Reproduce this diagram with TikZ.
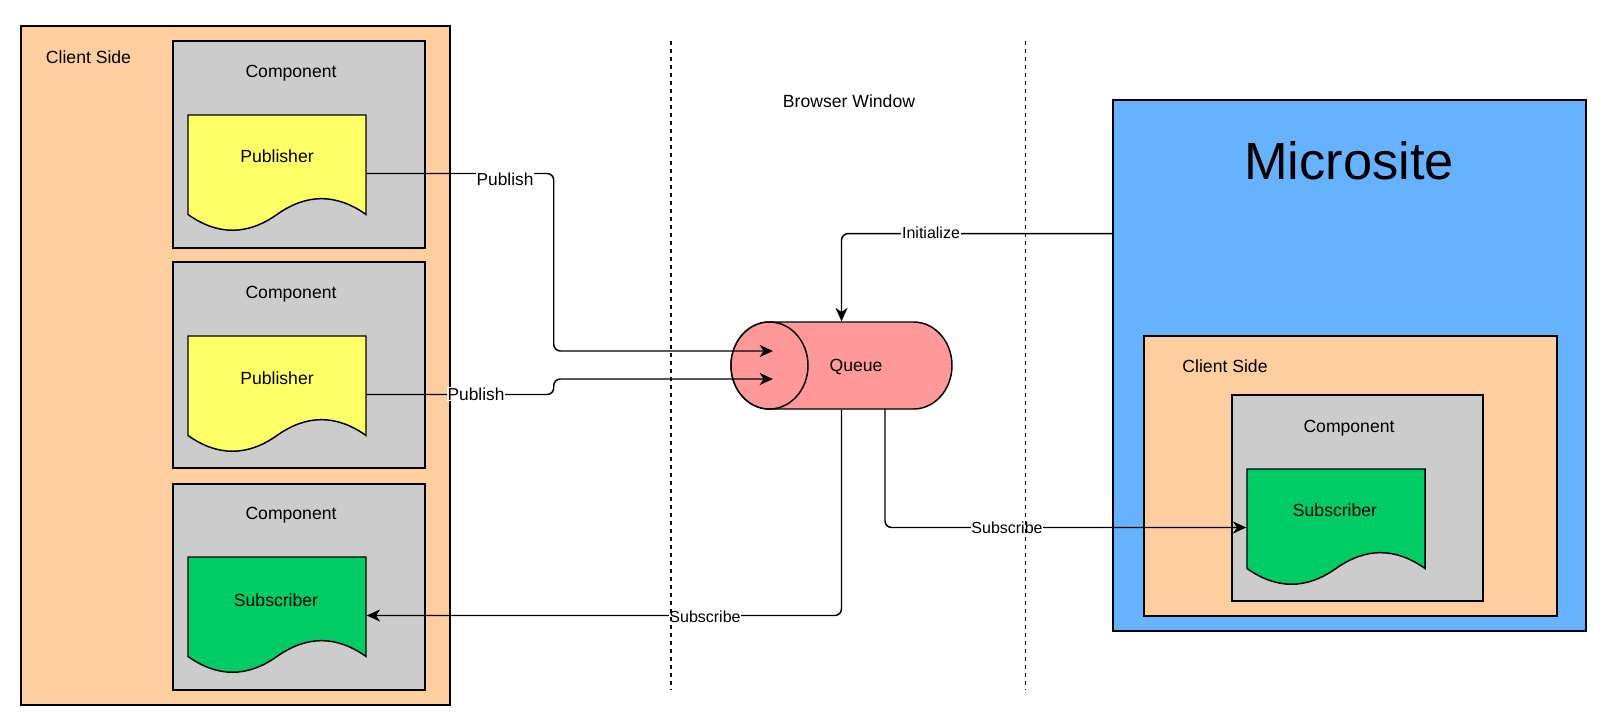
\documentclass[tikz,border=0pt]{standalone}
\usepackage{fontspec}
\setmainfont{Liberation Sans}
\usetikzlibrary{arrows.meta}

\definecolor{clientorange}{HTML}{FFCE9F}
\definecolor{compgray}{HTML}{CCCCCC}
\definecolor{pubyellow}{HTML}{FFFF66}
\definecolor{subgreen}{HTML}{00CC66}
\definecolor{siteblue}{HTML}{66B2FF}
\definecolor{queuepink}{HTML}{FF9999}

\tikzset{every picture/.style={line width=1.1pt}}
\tikzset{
  boxtext/.style={font=\fontsize{13.2}{16}\selectfont, inner sep=0pt},
  elabel/.style={font=\fontsize{12}{14}\selectfont, fill=white, inner sep=0.6pt},
  plabel/.style={elabel, font=\fontsize{13}{15}\selectfont},
  docnode/.style={minimum width=133.5pt, minimum height=87.75pt, inner sep=0pt},
  conn/.style={rounded corners=5pt, -{Stealth[length=10pt,width=9pt,inset=3pt]}},
  divider/.style={dash pattern=on 3pt off 3pt}
}

% document shape: top left corner, fill colour
\newcommand{\docshape}[3]{%
  \draw[fill=#3] (#1,#2) -- ({#1+178},#2) -- ({#1+178},{#2+99.45})
    .. controls ({#1+148.33},{#2+78.39}) and ({#1+118.67},{#2+78.39}) .. ({#1+89},{#2+99.45})
    .. controls ({#1+59.33},{#2+120.51}) and ({#1+29.67},{#2+120.51}) .. (#1,{#2+99.45}) -- cycle;}

\begin{document}
\begin{tikzpicture}[x=0.75pt,y=0.75pt,yscale=-1,xscale=1]
\useasboundingbox (0,0) rectangle (1606,725);

%Shape: Rectangle (client side, left)
\draw[fill=clientorange] (21,26) rectangle (450,705);
% Text Node
\draw (88.5,57) node (lside) [boxtext] {Client Side};

%Shape: Rectangle (components)
\draw[fill=compgray] (173,41) rectangle (425,248);
\draw[fill=compgray] (173,262) rectangle (425,468);
\draw[fill=compgray] (173,484) rectangle (425,690);
% Text Node
\draw (291,73) node (comp1) [boxtext] {Component};
\draw (291,294) node (comp2) [boxtext] {Component};
\draw (291,515) node (comp3) [boxtext] {Component};

%Shape: Document
\docshape{188}{115}{pubyellow}
\docshape{188}{336}{pubyellow}
\docshape{188}{557}{subgreen}
\node (pub1) [docnode] at (277,173.5) {};
\node (pub2) [docnode] at (277,394.5) {};
\node (sub1) [docnode] at (277,615.5) {};
% Text Node
\draw (277,156) node (pub1txt) [boxtext] {Publisher};
\draw (277,378) node (pub2txt) [boxtext] {Publisher};
\draw (276,600) node (sub1txt) [boxtext] {Subscriber};

% Text Node
\draw (849,101) node (browser) [boxtext] {Browser Window};

%Shape: Can (queue)
\node (queue) [minimum width=165.75pt, minimum height=65.25pt, inner sep=0pt] at (841.5,365.5) {};
\draw[fill=queuepink] (769.5,322) -- (913.5,322) arc[start angle=-90, end angle=90, x radius=38.5, y radius=43.5]
  -- (769.5,409) arc[start angle=90, end angle=270, x radius=38.5, y radius=43.5] -- cycle;
\draw[fill=queuepink] (769.5,365.5) ellipse [x radius=38.5, y radius=43.5];
\draw (856,367) node (qtxt) [boxtext] {Queue};
\coordinate (qin1) at (773,351);
\coordinate (qin2) at (773,379);
\coordinate (qout) at (885,409);

%Shape: Rectangle (microsite)
\node (microsite) [draw, fill=siteblue, minimum width=354.75pt, minimum height=398.25pt, inner sep=0pt] at (1349.5,365.5) {};
\draw (1349,161) node (mtitle) [font=\fontsize{39.3}{44}\selectfont, inner sep=0pt] {Microsite};
\coordinate (minit) at (1113,233.6);

\draw[fill=clientorange] (1144,336) rectangle (1557,616);
\draw (1225,366) node (rside) [boxtext] {Client Side};
\draw[fill=compgray] (1232,395) rectangle (1483,601);
\draw (1349,428) node (comp4) [boxtext] {Component};
\docshape{1247}{469}{subgreen}
\node (sub2) [docnode] at (1336,527.5) {};
\draw (1335,510) node (sub2txt) [boxtext] {Subscriber};

%Straight Lines (connectors)
\draw[conn] (pub1.east) -- ++(187,0) |- (qin1);
\draw[conn] (pub2.east) -- ++(187,0) |- (qin2);
\draw[conn] (minit) -| (queue.north);
\draw[conn] (queue.south) |- (sub1.east);
\draw[conn] (qout) |- (sub2.west);

% Text Node (connector labels)
\draw (505,179) node (lpub1) [plabel] {Publish};
\draw (476,394) node (lpub2) [plabel] {Publish};
\draw (931,233) node (linit) [elabel] {Initialize};
\draw (705,617) node (lsub1) [elabel] {Subscribe};
\draw (1007,528) node (lsub2) [elabel] {Subscribe};

%Straight Lines (browser window edges)
\draw[divider] (671,41) -- (671,690);
\draw[divider] (1025.5,41) -- (1025.5,690);

\end{tikzpicture}
\end{document}
